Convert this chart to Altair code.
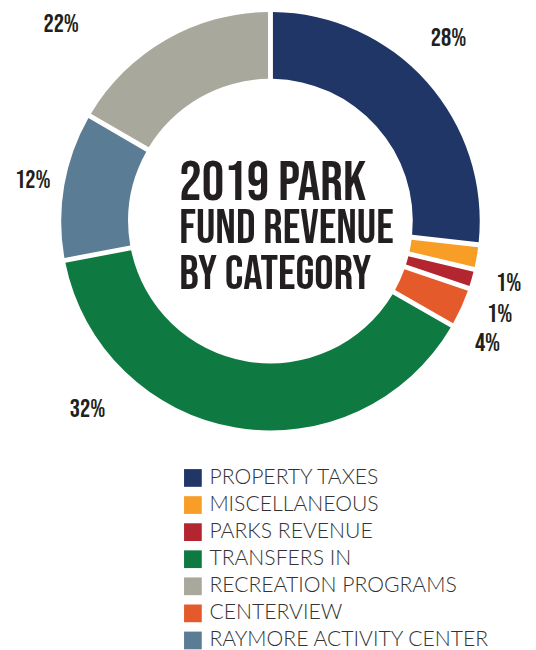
import altair as alt
import pandas as pd

# Ring slices, clockwise from 12 o'clock (share of the ring as drawn, in %)
ring_categories = ["PROPERTY TAXES", "MISCELLANEOUS", "PARKS REVENUE", "CENTERVIEW",
                   "TRANSFERS IN", "RAYMORE ACTIVITY CENTER", "RECREATION PROGRAMS"]
ring_share = [26.8, 1.9, 1.5, 3.1, 38.7, 11.4, 16.6]

# Printed percentage labels (same order as ring)
pct_labels = ["28%", "1%", "1%", "4%", "32%", "12%", "22%"]

# Legend order and colours
legend_order = ["PROPERTY TAXES", "MISCELLANEOUS", "PARKS REVENUE", "TRANSFERS IN",
                "RECREATION PROGRAMS", "CENTERVIEW", "RAYMORE ACTIVITY CENTER"]
legend_colors = ["#1f3667", "#f89e26", "#b3252f", "#0e7a41", "#a9a89d", "#e55a2a", "#5b7c95"]

# Centre title
title_lines = ["2019 PARK", "FUND REVENUE", "BY CATEGORY"]

# Annotation placement of the percentage labels (angle clockwise from top, distance from centre)
label_angle_deg = [44.3, 104.6, 112.0, 119.4, 224.3, 279.9, 313.3]
label_radius = [259, 250, 251, 253, 266, 245, 292]

CX, CY = 266.5, 211.5
COND = "'Bebas Neue', 'League Gothic', Oswald, sans-serif"
INK = "#231f20"

ring = pd.DataFrame({"category": ring_categories, "share": ring_share,
                     "order": list(range(len(ring_categories)))})

arcs = alt.Chart(ring).mark_arc(
    innerRadius=144.5, outerRadius=212.5, padAngle=0.0195
).encode(
    theta=alt.Theta("share:Q", stack=True),
    order=alt.Order("order:Q"),
    color=alt.Color(
        "category:N",
        scale=alt.Scale(domain=legend_order, range=legend_colors),
        legend=alt.Legend(
            orient="none", legendX=177, legendY=461.5, title=None,
            symbolType="square", symbolSize=324, symbolStrokeWidth=0,
            symbolOpacity=1, labelFont="Lato", labelFontSize=21.5,
            labelFontWeight=300, labelColor="#333333", rowPadding=4.5,
            labelOffset=6, labelLimit=500, padding=0,
        ),
    ),
    x=alt.value(CX), y=alt.value(CY),
)

lab = pd.DataFrame({"text": pct_labels, "ang": label_angle_deg, "r": label_radius})
labels = alt.Chart(lab).transform_calculate(
    th="datum.ang * PI / 180"
).mark_text(
    font=COND, fontSize=26, color=INK, align="center", baseline="middle"
).encode(
    theta=alt.Theta("th:Q", scale=None),
    radius=alt.Radius("r:Q", scale=None),
    text="text:N",
    x=alt.value(CX), y=alt.value(CY),
)

t1 = alt.Chart(pd.DataFrame({"t": [title_lines[0]]})).mark_text(
    font=COND, fontSize=57, color=INK, align="left", baseline="alphabetic"
).encode(text="t:N", x=alt.value(174), y=alt.value(190))

t2 = alt.Chart(pd.DataFrame({"t": ["\n".join(title_lines[1:])]})).mark_text(
    font=COND, fontSize=49, color=INK, align="left",
    baseline="alphabetic", lineBreak="\n", lineHeight=46
).encode(text="t:N", x=alt.value(174), y=alt.value(234))

chart = alt.layer(arcs, labels, t1, t2).resolve_scale(
    theta="independent", radius="independent"
).properties(
    width=528, height=642, autosize=alt.AutoSizeParams(type="none"), padding=0,
    background="white"
).configure_view(stroke=None)

chart.save("out.html", embed_options={"renderer": "svg", "actions": False})
